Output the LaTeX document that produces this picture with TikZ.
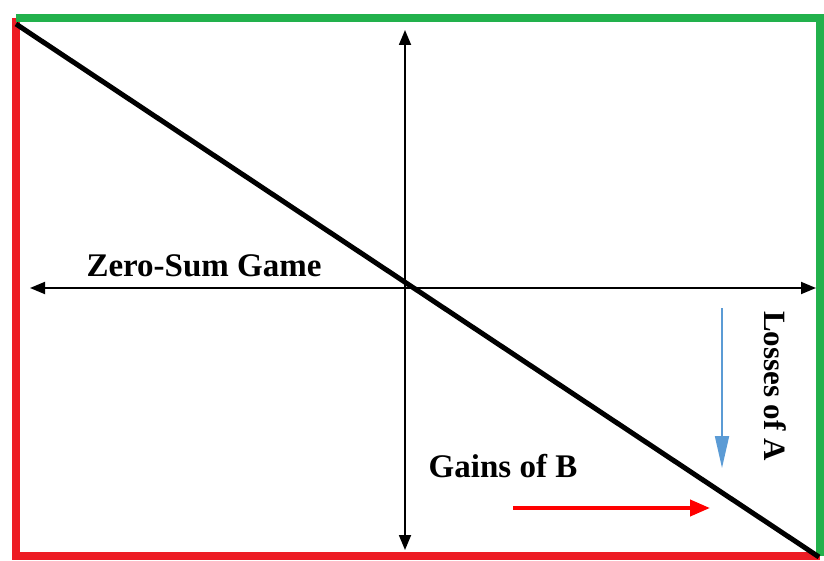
\documentclass[tikz,border=0pt]{standalone}
\usepackage{fontspec}
\setmainfont{Liberation Serif}
\usetikzlibrary{arrows.meta}
\definecolor{frameGreen}{HTML}{22B14C}
\definecolor{frameRed}{HTML}{ED1C24}
\definecolor{lossBlue}{HTML}{5B9BD5}
\definecolor{gainRed}{HTML}{FF0000}
\tikzset{
  axisline/.style={
    {Triangle[length=15pt, width=12pt]}-{Triangle[length=15pt, width=12pt]},
    line width=1.8pt,
    color=black
  },
  gainline/.style={
    line width=8pt,
    color=frameGreen,
    line cap=square
  },
  lossline/.style={
    line width=8pt,
    color=frameRed,
    line cap=square
  },
  sumline/.style={
    line width=5pt,
    color=black
  },
  labeltext/.style={
    font=\fontsize{33}{38}\selectfont\bfseries,
    text=black,
    inner sep=0pt
  }
}

\begin{document}
\begin{tikzpicture}[x=1pt, y=-1pt]

  \useasboundingbox (0,0) rectangle (824,561);

  % Frame corners
  \coordinate (tl) at (16,18);
  \coordinate (tr) at (820,18);
  \coordinate (bl) at (16,556);
  \coordinate (br) at (820,556);

  % Zero-sum line ends
  \coordinate (sumtop) at (16,24);
  \coordinate (sumbot) at (819,557);

  % Axis ends
  \coordinate (xl) at (30,288);
  \coordinate (xr) at (816,288);
  \coordinate (yt) at (405,30);
  \coordinate (yb) at (405,550);

  % Arrow ends
  \coordinate (bluetop) at (722,308);
  \coordinate (bluebot) at (722,468);
  \coordinate (redleft) at (513,508);
  \coordinate (redright) at (710,508);

  % Frame
  \draw [lossline] (tl) -- (bl) -- (br);
  \draw [gainline] (tl) -- (tr) -- (br);

  % Axes
  \draw [axisline] (xl) -- (xr);
  \draw [axisline] (yt) -- (yb);

  % Zero-sum line
  \draw [sumline] (sumtop) -- (sumbot);

  % Labels
  \node (zsg) [labeltext] at (204,266) {Zero-Sum Game};
  \node (gob) [labeltext] at (503,466) {Gains of B};
  \node (loa) [labeltext, font=\fontsize{31}{36}\selectfont\bfseries, rotate=-90] at (775,386) {Losses of A};

  % Gain and loss arrows
  \draw [-{Triangle[length=32pt, width=14pt]}, line width=1.8pt, color=lossBlue] (bluetop) -- (bluebot);
  \draw [-{Triangle[length=20pt, width=16pt]}, line width=4pt, color=gainRed] (redleft) -- (redright);

\end{tikzpicture}
\end{document}
